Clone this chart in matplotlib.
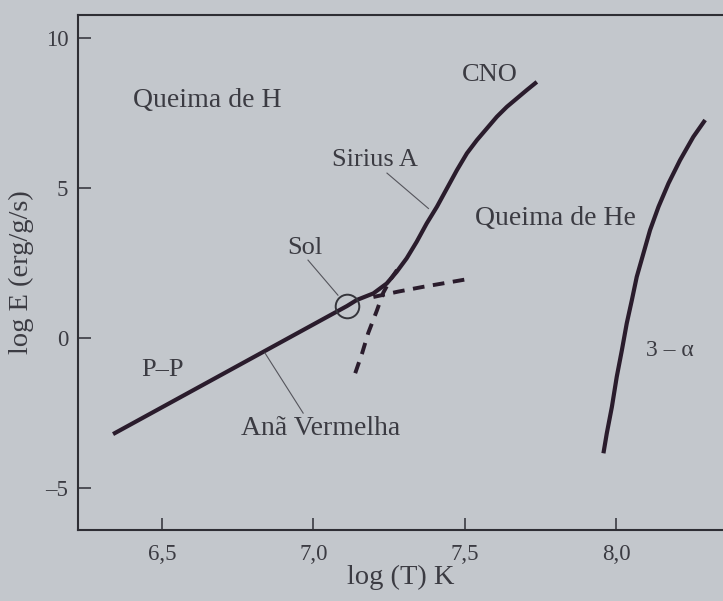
import matplotlib
matplotlib.use("Agg")
import matplotlib.pyplot as plt

plt.rcParams['font.family'] = ['Liberation Serif', 'DejaVu Serif']

# curvas (log T, log E)
pp_cno_T = [6.338, 7.111, 7.143, 7.198, 7.242, 7.275, 7.308, 7.341, 7.374, 7.408,
            7.441, 7.474, 7.507, 7.540, 7.573, 7.606, 7.639, 7.672, 7.705, 7.738]
pp_cno_E = [-3.2, 1.07, 1.27, 1.49, 1.82, 2.21, 2.66, 3.21, 3.82, 4.38,
            4.99, 5.60, 6.16, 6.60, 6.99, 7.38, 7.71, 7.99, 8.27, 8.54]

pp_ext_T = [7.198, 7.280, 7.363, 7.443, 7.523]
pp_ext_E = [1.37, 1.55, 1.71, 1.85, 1.99]

cno_ext_T = [7.138, 7.161, 7.181, 7.210, 7.230, 7.253, 7.276]
cno_ext_E = [-1.17, -0.5, 0.17, 0.93, 1.5, 1.93, 2.27]

alfa_T = [7.958, 7.969, 7.986, 8.002, 8.019, 8.035, 8.052, 8.068, 8.090, 8.112,
          8.140, 8.173, 8.211, 8.255, 8.294]
alfa_E = [-3.84, -3.18, -2.29, -1.29, -0.4, 0.49, 1.27, 2.04, 2.82, 3.6,
          4.38, 5.16, 5.93, 6.71, 7.27]

sol_T, sol_E = 7.111, 1.07

xticks = [6.5, 7.0, 7.5, 8.0]
xticklabels = ["6,5", "7,0", "7,5", "8,0"]
yticks = [-5, 0, 5, 10]
yticklabels = ["\u20135", "0", "5", "10"]

bg = '#c3c7cc'
ink = '#2a1c2c'
txt = '#3b3b42'

fig = plt.figure(figsize=(7.23, 6.01), dpi=100, facecolor=bg)
ax = fig.add_axes([0.108, 0.118, 0.892, 0.857])
ax.set_facecolor(bg)

ax.plot(pp_cno_T, pp_cno_E, color=ink, lw=3, solid_capstyle='butt', solid_joinstyle='round')
ax.plot(pp_ext_T, pp_ext_E, color=ink, lw=2.8, ls=(0, (3, 2.2)))
ax.plot(cno_ext_T, cno_ext_E, color=ink, lw=2.8, ls=(0, (3, 2.2)))
ax.plot(alfa_T, alfa_E, color=ink, lw=3, solid_capstyle='butt', solid_joinstyle='round')
ax.plot([sol_T], [sol_E], marker='o', ms=17, mfc='none', mec='#35353b', mew=1.4)

# rotulos
fs = 19
ax.text(6.649, 7.93, "Queima de H", fontsize=20, color=txt, ha='center', va='center')
ax.text(7.798, 4.0, "Queima de He", fontsize=20, color=txt, ha='center', va='center')
ax.text(7.584, 8.77, "CNO", fontsize=fs, color=txt, ha='center', va='center')
ax.text(7.204, 5.93, "Sirius A", fontsize=fs, color=txt, ha='center', va='center')
ax.text(6.972, 3.0, "Sol", fontsize=fs, color=txt, ha='center', va='center')
ax.text(6.5, -1.07, "P\u2013P", fontsize=fs, color=txt, ha='center', va='center')
ax.text(7.025, -3.0, "Anã Vermelha", fontsize=20, color=txt, ha='center', va='center')
ax.text(8.178, -0.4, "3 \u2013 \u03b1", fontsize=17, color=txt, ha='center', va='center')

# linhas de chamada
lc = dict(color='#55555c', lw=0.8)
ax.plot([7.243, 7.380], [5.5, 4.32], **lc)
ax.plot([6.982, 7.081], [2.6, 1.43], **lc)
ax.plot([6.840, 6.966], [-0.5, -2.5], **lc)

ax.set_xlim(6.2225, 8.353)
ax.set_ylim(-6.4, 10.77)
ax.set_xticks(xticks)
ax.set_xticklabels(xticklabels)
ax.set_yticks(yticks)
ax.set_yticklabels(yticklabels)
ax.tick_params(direction='in', length=9, width=1.2, labelsize=16.5, colors=txt)
ax.tick_params(axis='x', pad=10)
ax.tick_params(axis='y', pad=7)
ax.spines['right'].set_visible(False)
for s in ['left', 'top', 'bottom']:
    ax.spines[s].set_color('#2e2e34')
    ax.spines[s].set_linewidth(1.5)

ax.set_xlabel("log (T) K", fontsize=20.5, color=txt, labelpad=0)
ax.set_ylabel("log E (erg/g/s)", fontsize=20.5, color=txt, labelpad=8)

fig.savefig("out.png", dpi=100, facecolor=bg)
